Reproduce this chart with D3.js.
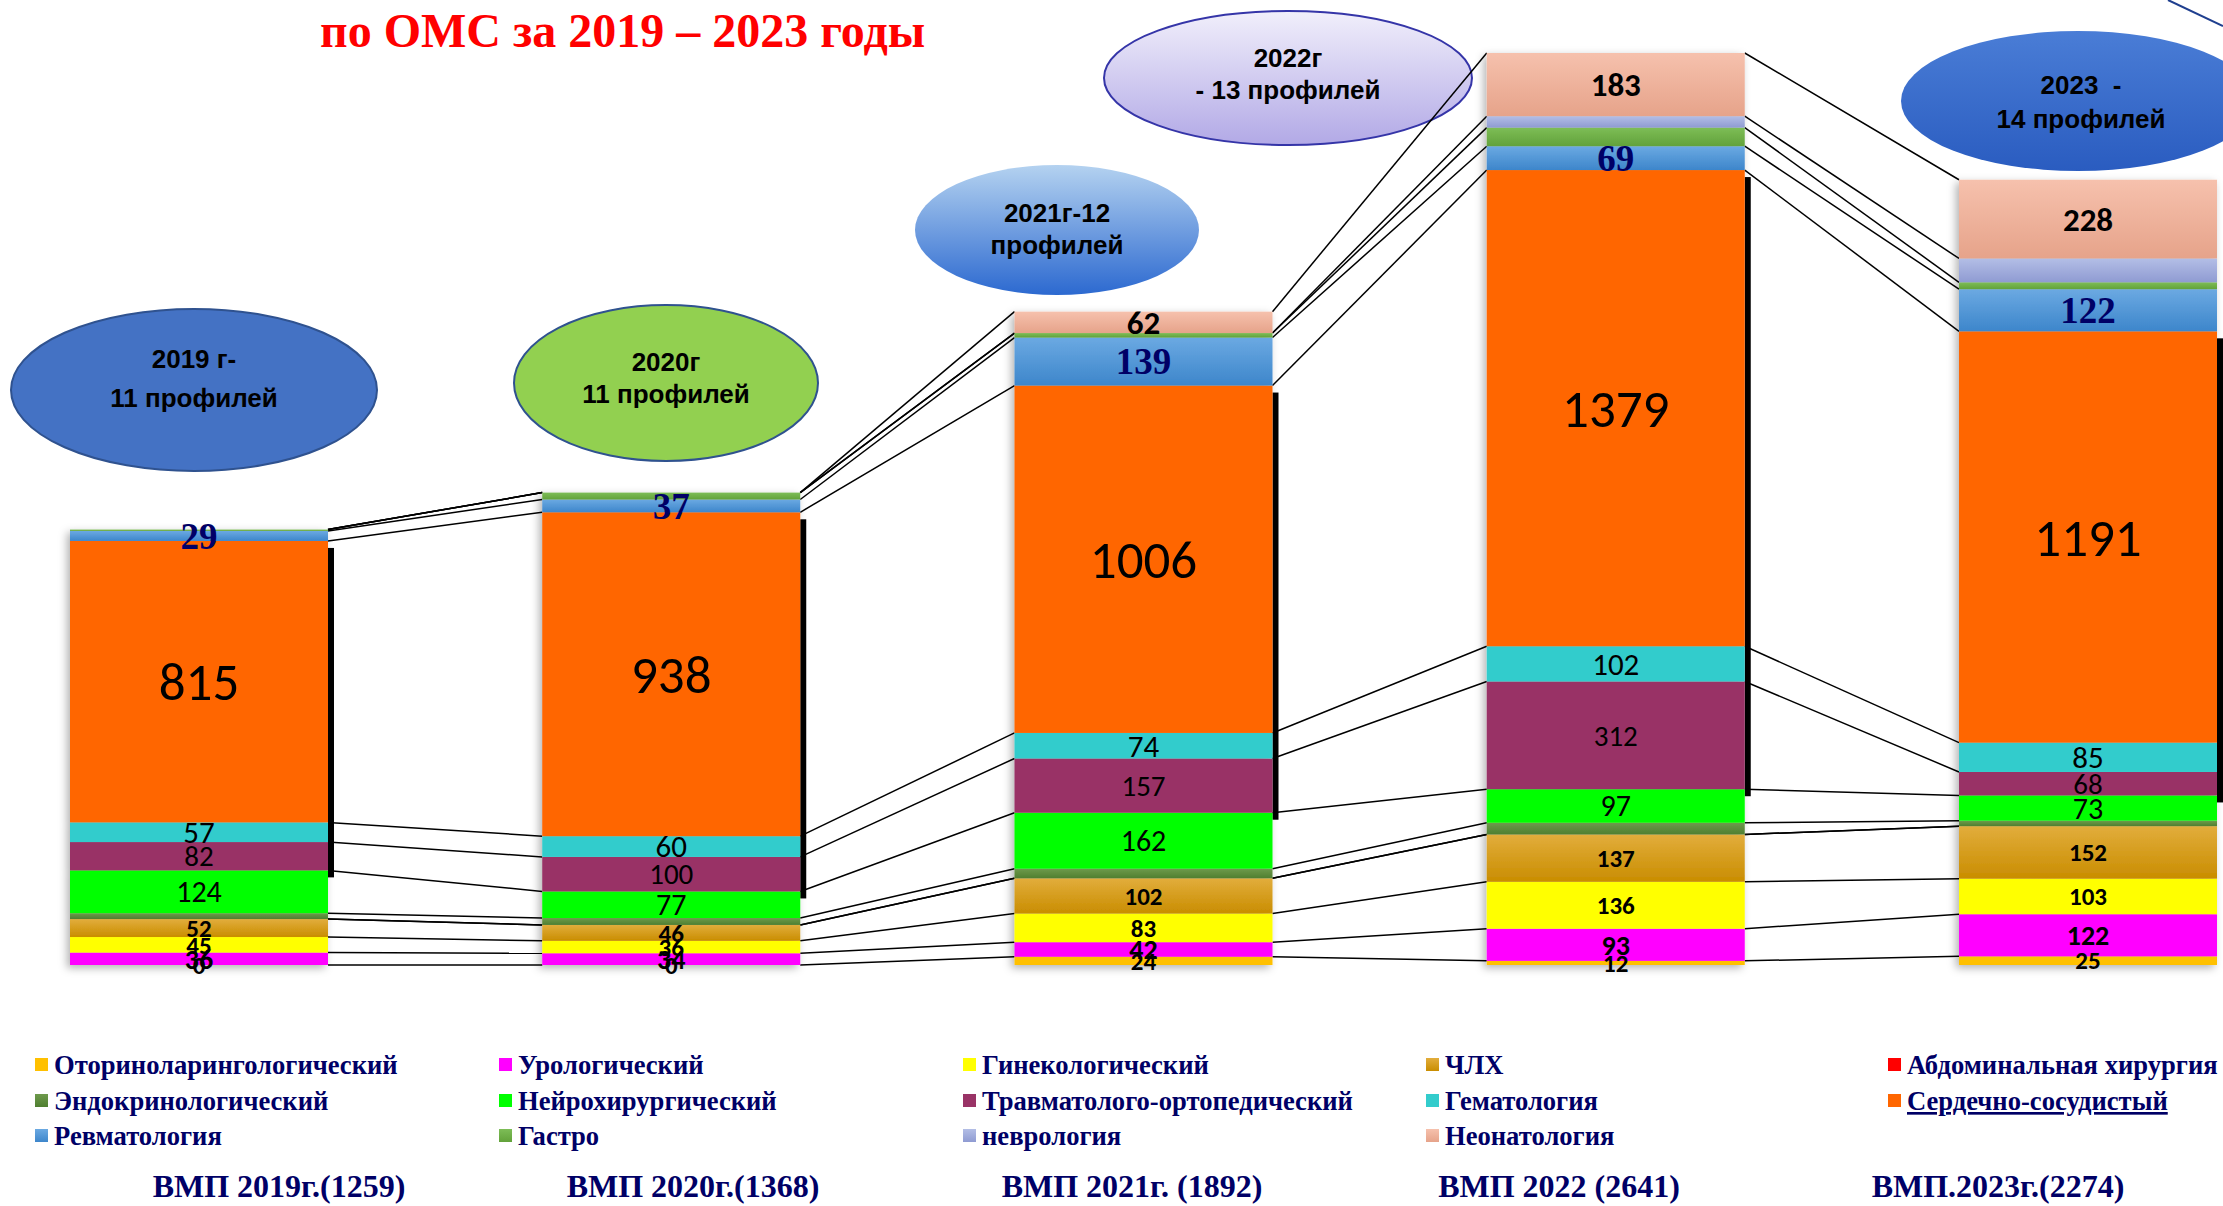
<!DOCTYPE html>
<html>
<head>
<meta charset="utf-8">
<script src="https://cdn.jsdelivr.net/npm/d3@7.9.0/dist/d3.min.js"></script>
<style>
  body { margin: 0; background: #fff; overflow: hidden; }
  svg { display: block; }
</style>
</head>
<body>
<svg id="chart" width="2223" height="1206"></svg>
<script>
// --- data ---
const years = ['2019', '2020', '2021', '2022', '2023'];
const yearTitles = ['ВМП 2019г.(1259)', 'ВМП 2020г.(1368)', 'ВМП 2021г. (1892)', 'ВМП 2022 (2641)', 'ВМП.2023г.(2274)'];
const ovalTexts = [['2019 г-', '11 профилей'], ['2020г', '11 профилей'], ['2021г-12', 'профилей'], ['2022г', '- 13 профилей'], ['2023  -', '14 профилей']];

const seriesNames = ['Оториноларингологический', 'Урологический', 'Гинекологический', 'ЧЛХ', 'Абдоминальная хирургия',
  'Эндокринологический', 'Нейрохирургический', 'Травматолого-ортопедический', 'Гематология', 'Сердечно-сосудистый',
  'Ревматология', 'Гастро', 'неврология', 'Неонатология'];

const otolaryngology = [0, 0, 24, 12, 25];
const urology        = [36, 34, 42, 93, 122];
const gynecology     = [45, 36, 83, 136, 103];
const maxillofacial  = [52, 46, 102, 137, 152];
const abdominal      = [0, 0, 0, 0, 0];
const endocrine      = [17, 20, 28, 34, 16];
const neurosurgery   = [124, 77, 162, 97, 73];
const trauma         = [82, 100, 157, 312, 68];
const hematology     = [57, 60, 74, 102, 85];
const cardio         = [815, 938, 1006, 1379, 1191];
const rheumatology   = [29, 37, 139, 69, 122];
const gastro         = [4, 20, 13, 54, 20];
const neurology      = [0, 0, 0, 33, 69];
const neonatology    = [0, 0, 62, 183, 228];

const seriesValues = [otolaryngology, urology, gynecology, maxillofacial, abdominal, endocrine, neurosurgery,
  trauma, hematology, cardio, rheumatology, gastro, neurology, neonatology];

// --- styles ---
const colors = ['#FFC000', '#FF00FF', '#FFFF00', ['#E2AD3C', '#C98D00'], '#FF0000', ['#6E9A4C', '#4F7F30'], '#00FF00',
  '#993366', '#33CCCC', '#FF6600', ['#6BA9E2', '#3D86CB'], ['#7DBD57', '#62A23A'], ['#B3BEE6', '#8F9BD2'], ['#F6C1AD', '#E6A38A']];

// label style per series: null = no label
const sans = 'Carlito, Lato, "Open Sans", sans-serif';
const serif = '"Liberation Serif", "Times New Roman", serif';
const labelStyle = [
  { size: 25, weight: 700, font: sans, color: '#000' },
  { size: 28, weight: 700, font: sans, color: '#000' },
  { size: 25, weight: 700, font: sans, color: '#000' },
  { size: 25, weight: 700, font: sans, color: '#000' },
  null,
  null,
  { size: 30, weight: 400, font: sans, color: '#000' },
  { size: 29, weight: 400, font: sans, color: '#000' },
  { size: 31, weight: 400, font: sans, color: '#000' },
  { size: 53, weight: 400, font: sans, color: '#000' },
  { size: 37, weight: 700, font: serif, color: '#000066' },
  null,
  null,
  { size: 33, weight: 700, font: sans, color: '#000' }
];

const svg = d3.select('#chart');
const defs = svg.append('defs');

const fillOf = (c, i) => {
  if (!Array.isArray(c)) return c;
  const g = defs.append('linearGradient').attr('id', 'g' + i).attr('x1', 0).attr('y1', 0).attr('x2', 0).attr('y2', 1);
  g.append('stop').attr('offset', '0%').attr('stop-color', c[0]);
  g.append('stop').attr('offset', '100%').attr('stop-color', c[1]);
  return `url(#g${i})`;
};
const fills = colors.map(fillOf);

const shadow = defs.append('filter').attr('id', 'shadow').attr('x', '-10%').attr('y', '-10%').attr('width', '120%').attr('height', '120%');
shadow.append('feDropShadow').attr('dx', -3).attr('dy', 3).attr('stdDeviation', 4).attr('flood-color', '#000').attr('flood-opacity', 0.3);

// --- scales ---
const x = d3.scaleBand().domain(years).range([70, 2217]).paddingInner(0.4537).paddingOuter(0);
const y = d3.scaleLinear().domain([0, 2641]).range([965, 53]);
const bw = x.bandwidth();

const rows = years.map((yr, j) => {
  const r = { year: yr };
  seriesNames.forEach((n, i) => r[n] = seriesValues[i][j]);
  return r;
});
const stacked = d3.stack().keys(seriesNames)(rows);

// --- title ---
svg.append('text')
  .attr('x', 320).attr('y', 47)
  .attr('font-family', serif).attr('font-weight', 700).attr('font-size', 48)
  .attr('fill', '#FF0000')
  .text('по ОМС за 2019 – 2023 годы');

// --- ovals ---
const ovals = [
  { cx: 194, cy: 390, rx: 183, ry: 81, fill: '#4472C4', stroke: '#2F528F', top: -22, gap: 39 },
  { cx: 666, cy: 383, rx: 152, ry: 78, fill: '#92D050', stroke: '#2F528F', top: -12, gap: 32 },
  { cx: 1057, cy: 230, rx: 142, ry: 65, fill: ['#B4D2F0', '#2C69D0'], stroke: 'none', top: -8, gap: 32 },
  { cx: 1288, cy: 78, rx: 184, ry: 67, fill: ['#F1EFFB', '#B2A9E6'], stroke: '#3535A8', top: -11, gap: 32 },
  { cx: 2078, cy: 101, rx: 177, ry: 70, fill: ['#4A7DD6', '#2A5CC0'], stroke: 'none', top: -7, gap: 34, tx: 2081 }
];
ovals.forEach((o, i) => {
  const f = Array.isArray(o.fill) ? fillOf(o.fill, 'oval' + i) : o.fill;
  svg.append('ellipse').attr('cx', o.cx).attr('cy', o.cy).attr('rx', o.rx).attr('ry', o.ry)
    .attr('fill', f).attr('stroke', o.stroke).attr('stroke-width', 2);
  const tx = o.tx || o.cx;
  const t = svg.append('text').attr('x', tx).attr('text-anchor', 'middle')
    .attr('font-family', '"Liberation Sans", Arial, sans-serif').attr('font-weight', 700).attr('font-size', 26).attr('fill', '#000');
  ovalTexts[i].forEach((line, k) => {
    t.append('tspan').attr('x', tx).attr('y', o.cy + o.top + k * o.gap).attr('xml:space', 'preserve').text(line);
  });
});
svg.append('line').attr('x1', 2168).attr('y1', 0).attr('x2', 2223).attr('y2', 26).attr('stroke', '#1F3F8F').attr('stroke-width', 2);

// --- series lines between bars ---
const conn = svg.append('g').attr('stroke', '#000').attr('stroke-width', 1.5);
stacked.forEach(s => {
  for (let j = 0; j < years.length - 1; j++) {
    conn.append('line')
      .attr('x1', x(years[j]) + bw).attr('y1', y(s[j][1]))
      .attr('x2', x(years[j + 1])).attr('y2', y(s[j + 1][1]));
  }
});

// --- black strip to the right of the cardio/hemat/trauma block ---
svg.append('g').selectAll('rect').data(years).join('rect')
  .attr('x', d => x(d) + bw)
  .attr('width', 6)
  .attr('y', (d, j) => y(stacked[9][j][1]) + 7)
  .attr('height', (d, j) => y(stacked[7][j][0]) - y(stacked[9][j][1]))
  .attr('fill', '#000');

// --- bars ---
const bars = svg.append('g').attr('filter', 'url(#shadow)');
stacked.forEach((s, i) => {
  bars.append('g').attr('fill', fills[i])
    .selectAll('rect').data(s).join('rect')
    .attr('x', d => x(d.data.year))
    .attr('width', bw)
    .attr('y', d => y(d[1]))
    .attr('height', d => y(d[0]) - y(d[1]));
});

// --- value labels ---
const labels = svg.append('g').attr('text-anchor', 'middle');
stacked.forEach((s, i) => {
  const st = labelStyle[i];
  if (!st) return;
  s.forEach(d => {
    const v = d[1] - d[0];
    if (v === 0 && i !== 0) return;
    labels.append('text')
      .attr('x', x(d.data.year) + bw / 2)
      .attr('y', y((d[0] + d[1]) / 2))
      .attr('dy', '0.35em')
      .attr('font-family', st.font).attr('font-weight', st.weight).attr('font-size', st.size)
      .attr('fill', st.color)
      .text(v);
  });
});

// --- legend ---
const legendX = [35, 499, 963, 1426, 1888];
const legendY = [1066, 1102, 1137];
const legend = svg.append('g');
seriesNames.forEach((n, i) => {
  const cx = legendX[i % 5], cy = legendY[Math.floor(i / 5)];
  legend.append('rect').attr('x', cx).attr('y', cy - 8).attr('width', 13).attr('height', 13).attr('fill', fills[i]);
  legend.append('text').attr('x', cx + 19).attr('y', cy + 8)
    .attr('font-family', serif).attr('font-weight', 700).attr('font-size', 26.6).attr('fill', '#000066')
    .attr('text-decoration', i === 9 ? 'underline' : null)
    .text(n);
});

// --- year titles under the legend ---
const titleX = [279, 693, 1132, 1559, 1998];
svg.append('g').selectAll('text').data(yearTitles).join('text')
  .attr('x', (d, j) => titleX[j]).attr('y', 1197)
  .attr('text-anchor', 'middle')
  .attr('font-family', serif).attr('font-weight', 700).attr('font-size', 32).attr('fill', '#000066')
  .text(d => d);
</script>
</body>
</html>
